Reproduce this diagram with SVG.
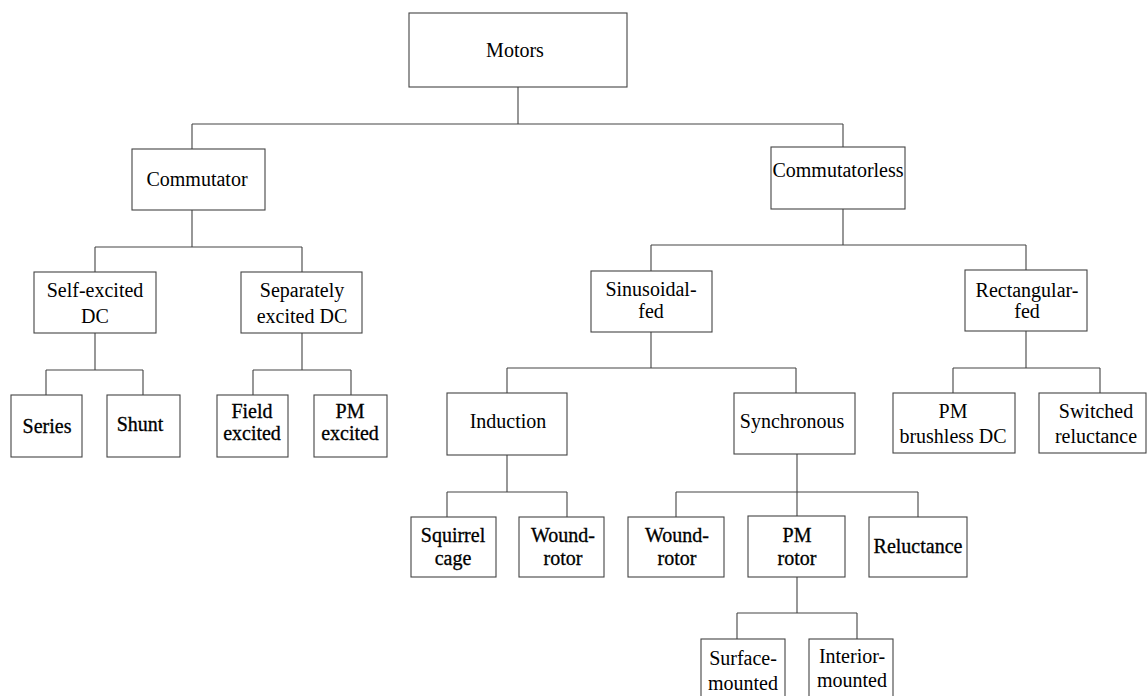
<svg xmlns="http://www.w3.org/2000/svg" width="1148" height="696" viewBox="0 0 1148 696">
<style>
.box{fill:none;stroke:#444;stroke-width:1.1}
.ln{fill:none;stroke:#444;stroke-width:1.1}
text{font-family:"Liberation Serif","Times New Roman",serif;font-size:20px;fill:#000;text-anchor:middle}
.hv{stroke:#000;stroke-width:0.3}
</style>
<rect width="1148" height="696" fill="#fff"/>
<g id="connectors">
<path class="ln" d="M518 87V124M192 124H843M192 124V149M843 124V147"/>
<path class="ln" d="M192 210V247M95 247H302M95 247V272M302 247V272"/>
<path class="ln" d="M843 209V245M651 245H1026M651 245V271M1026 245V270"/>
<path class="ln" d="M95 333V370M46 370H143M46 370V395M143 370V395"/>
<path class="ln" d="M302 333V370M253 370H351M253 370V395M351 370V395"/>
<path class="ln" d="M651 332V368M507 368H796M507 368V393M796 368V393"/>
<path class="ln" d="M1026 331V368M953 368H1100M953 368V393M1100 368V393"/>
<path class="ln" d="M507 455V492M447 492H567M447 492V517M567 492V517"/>
<path class="ln" d="M797 454V516M676 492H918M676 492V517M918 492V517"/>
<path class="ln" d="M797 577V613M737 613H857M737 613V639M857 613V639"/>
</g>
<g id="motors"><rect class="box" x="409" y="13" width="218" height="74"/><text x="515" y="57">Motors</text></g>
<g id="commutator"><rect class="box" x="132" y="149" width="133" height="61"/><text x="197" y="186">Commutator</text></g>
<g id="commutatorless"><rect class="box" x="771" y="147" width="134" height="62"/><text x="838" y="177">Commutatorless</text></g>
<g id="self-excited"><rect class="box" x="34" y="272" width="122" height="61"/><text x="95" y="297">Self-excited</text><text x="95" y="323">DC</text></g>
<g id="separately"><rect class="box" x="241" y="272" width="121" height="61"/><text x="302" y="297">Separately</text><text x="302" y="323">excited DC</text></g>
<g id="series"><rect class="box" x="11" y="395" width="71" height="62"/><text class="hv" x="47" y="433">Series</text></g>
<g id="shunt"><rect class="box" x="107" y="395" width="73" height="62"/><text class="hv" x="140" y="431">Shunt</text></g>
<g id="field"><rect class="box" x="217" y="395" width="71" height="62"/><text class="hv" x="252" y="418">Field</text><text class="hv" x="252" y="440">excited</text></g>
<g id="pm-excited"><rect class="box" x="314" y="395" width="73" height="62"/><text class="hv" x="350" y="418">PM</text><text class="hv" x="350" y="440">excited</text></g>
<g id="sinusoidal"><rect class="box" x="591" y="271" width="121" height="61"/><text x="651" y="296">Sinusoidal-</text><text x="651" y="318">fed</text></g>
<g id="rectangular"><rect class="box" x="965" y="270" width="122" height="61"/><text x="1027" y="297">Rectangular-</text><text x="1027" y="318">fed</text></g>
<g id="induction"><rect class="box" x="447" y="393" width="120" height="62"/><text x="508" y="428">Induction</text></g>
<g id="synchronous"><rect class="box" x="734" y="393" width="121" height="61"/><text x="792" y="428">Synchronous</text></g>
<g id="pm-brushless"><rect class="box" x="893" y="393" width="122" height="60"/><text x="953" y="418">PM</text><text x="953" y="443">brushless DC</text></g>
<g id="switched"><rect class="box" x="1039" y="393" width="107" height="60"/><text x="1096" y="418">Switched</text><text x="1096" y="443">reluctance</text></g>
<g id="squirrel"><rect class="box" x="411" y="517" width="85" height="60"/><text class="hv" x="453" y="542">Squirrel</text><text class="hv" x="453" y="565">cage</text></g>
<g id="wound-ind"><rect class="box" x="519" y="517" width="85" height="60"/><text class="hv" x="563" y="542">Wound-</text><text class="hv" x="563" y="565">rotor</text></g>
<g id="wound-sync"><rect class="box" x="628" y="517" width="96" height="60"/><text class="hv" x="677" y="542">Wound-</text><text class="hv" x="677" y="565">rotor</text></g>
<g id="pm-rotor"><rect class="box" x="748" y="516" width="97" height="61"/><text class="hv" x="797" y="542">PM</text><text class="hv" x="797" y="565">rotor</text></g>
<g id="reluctance"><rect class="box" x="869" y="517" width="98" height="60"/><text class="hv" x="918" y="553">Reluctance</text></g>
<g id="surface"><rect class="box" x="701" y="639" width="84" height="70"/><text x="743" y="665">Surface-</text><text x="743" y="690">mounted</text></g>
<g id="interior"><rect class="box" x="809" y="639" width="84" height="70"/><text x="852" y="663">Interior-</text><text x="852" y="687">mounted</text></g>
</svg>
